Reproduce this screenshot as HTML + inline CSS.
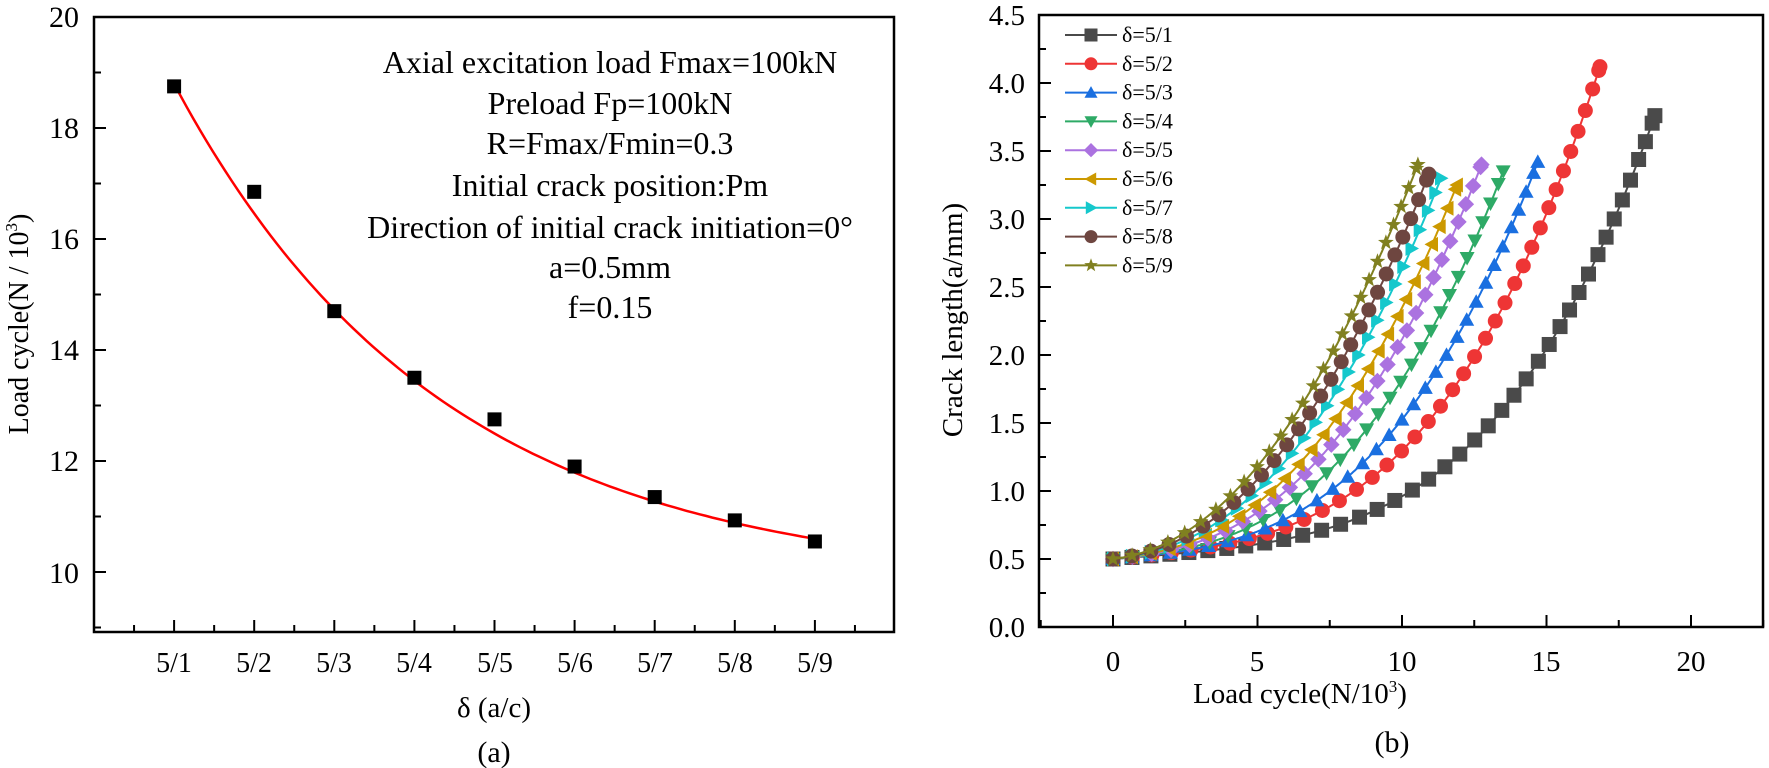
<!DOCTYPE html>
<html><head><meta charset="utf-8"><style>
html,body{margin:0;padding:0;background:#fff;}
svg{display:block;font-family:"Liberation Serif",serif;}
</style></head><body>
<svg id="s" width="1769" height="768" viewBox="0 0 1769 768" xmlns="http://www.w3.org/2000/svg">
<rect width="1769" height="768" fill="#fff"/>
<g id="L"></g>
<rect x="94" y="17" width="800" height="615" fill="none" stroke="#000" stroke-width="2.5"/>
<g font-size="30" text-anchor="end" fill="#000">
<text x="79" y="27">20</text><text x="79" y="138">18</text><text x="79" y="249">16</text>
<text x="79" y="360">14</text><text x="79" y="471">12</text><text x="79" y="583">10</text>
</g>
<g font-size="28" text-anchor="middle">
<text x="174" y="672">5/1</text><text x="254" y="672">5/2</text><text x="334" y="672">5/3</text>
<text x="414" y="672">5/4</text><text x="495" y="672">5/5</text><text x="575" y="672">5/6</text>
<text x="655" y="672">5/7</text><text x="735" y="672">5/8</text><text x="815" y="672">5/9</text>
<text x="494" y="717" font-size="29">δ (a/c)</text>
<text x="494" y="762" font-size="30">(a)</text>
</g>
<text transform="translate(28,324) rotate(-90)" font-size="28" text-anchor="middle">Load cycle(N / 10<tspan font-size="17" dy="-11">3</tspan><tspan dy="11">)</tspan></text>
<g font-size="32" text-anchor="middle">
<text x="610" y="73">Axial excitation load  Fmax=100kN</text>
<text x="610" y="114">Preload Fp=100kN</text>
<text x="610" y="154">R=Fmax/Fmin=0.3</text>
<text x="610" y="196">Initial crack position:Pm</text>
<text x="610" y="238">Direction of initial crack initiation=0°</text>
<text x="610" y="278">a=0.5mm</text>
<text x="610" y="318">f=0.15</text>
</g>
<g id="R"></g>
<rect x="1039" y="15" width="724" height="612" fill="none" stroke="#000" stroke-width="2.5"/>
<g font-size="29" text-anchor="end" id="RY"></g>
<g font-size="29" text-anchor="middle">
<text x="1113" y="671">0</text><text x="1257" y="671">5</text><text x="1402" y="671">10</text>
<text x="1546" y="671">15</text><text x="1691" y="671">20</text>
<text x="1300" y="703" font-size="29">Load cycle(N/10<tspan font-size="17" dy="-11">3</tspan><tspan dy="11">)</tspan></text>
<text x="1392" y="752" font-size="30">(b)</text>
</g>
<text transform="translate(962,320) rotate(-90)" font-size="29" text-anchor="middle">Crack length(a/mm)</text>
<g id="LEG" font-size="22"></g>
</svg>
<script>
const NS="http://www.w3.org/2000/svg";
function el(p,t,a){const e=document.createElementNS(NS,t);for(const k in a)e.setAttribute(k,a[k]);p.appendChild(e);return e;}
const L=document.getElementById('L');
const ly=v=>17+(20-v)*55.5, lx=v=>94+v*80.1;
for(let v=9;v<=20;v++){const big=v%2==0;el(L,'line',{x1:94,x2:94+(big?12:7),y1:ly(v),y2:ly(v),stroke:'#000','stroke-width':2});}
for(let i=1;i<20;i++){const big=i%2==0;const x=94+i*40.05;el(L,'line',{x1:x,x2:x,y1:632,y2:632-(big?12:7),stroke:'#000','stroke-width':2});}
let d='';for(let i=0;i<=100;i++){const x=1+8*i/100;const y=9.78+12.17*Math.exp(-0.3*x);d+=(i?'L':'M')+lx(x).toFixed(1)+','+ly(y).toFixed(1);}
el(L,'path',{d:d,fill:'none',stroke:'#f00','stroke-width':2.5});
const pts=[18.75,16.85,14.7,13.5,12.75,11.9,11.35,10.93,10.55];
pts.forEach((v,i)=>el(L,'rect',{x:lx(i+1)-7,y:ly(v)-7,width:14,height:14,fill:'#000'}));
const R=document.getElementById('R');
const rx=v=>1113+v*28.9, ry=v=>627-v*136;
const RY=document.getElementById('RY');
for(let i=0;i<=9;i++){const v=i*0.5;el(RY,'text',{x:1025,y:ry(v)+10}).textContent=v.toFixed(1);}
for(let i=0;i<=18;i++){const v=i*0.25;const big=i%2==0;el(R,'line',{x1:1039,x2:1039+(big?12:7),y1:ry(v),y2:ry(v),stroke:'#000','stroke-width':2});}
for(let i=-1;i<=9;i++){const v=i*2.5;const big=i%2==0;el(R,'line',{x1:rx(v),x2:rx(v),y1:627,y2:627-(big?12:7),stroke:'#000','stroke-width':2});}
const S=[
 ['5/1','#4a4a4a',18.75,3.76,3.7,'sq'],
 ['5/2','#ee3535',16.85,4.12,3.3,'ci'],
 ['5/3','#1a6fe0',14.7,3.42,3.0,'tu'],
 ['5/4','#2eaa66',13.5,3.35,2.8,'td'],
 ['5/5','#ab72e0',12.75,3.40,2.6,'di'],
 ['5/6','#cc9900',11.9,3.25,2.45,'tl'],
 ['5/7','#15c8cc',11.35,3.30,2.3,'tr'],
 ['5/8','#6e4640',10.93,3.33,2.2,'ci'],
 ['5/9','#808020',10.55,3.40,2.1,'st']];
function marker(g,type,x,y,c,s){s=s||7.5;
 if(type=='sq')el(g,'rect',{x:x-s,y:y-s,width:2*s,height:2*s,fill:c});
 else if(type=='ci')el(g,'circle',{cx:x,cy:y,r:s,fill:c});
 else{let p;
  if(type=='tu')p=[[0,-s],[s,s*.8],[-s,s*.8]];
  if(type=='td')p=[[0,s],[s,-s*.8],[-s,-s*.8]];
  if(type=='tl')p=[[-s,0],[s*.8,-s],[s*.8,s]];
  if(type=='tr')p=[[s,0],[-s*.8,-s],[-s*.8,s]];
  if(type=='di')p=[[0,-s*1.1],[s*1.1,0],[0,s*1.1],[-s*1.1,0]];
  if(type=='st'){p=[];for(let k=0;k<10;k++){const r=k%2?s*0.45:s*1.1;const a=-Math.PI/2+k*Math.PI/5;p.push([r*Math.cos(a),r*Math.sin(a)]);}}
  el(g,'polygon',{points:p.map(q=>(x+q[0]).toFixed(1)+','+(y+q[1]).toFixed(1)).join(' '),fill:c});}
}
S.forEach(s=>{
 const [n,c,T,A,p,m]=s;const g=el(R,'g',{});
 const P=[];for(let i=0;i<=400;i++){const u=i/400;const v=0.5+(A-0.5)*(0.1*u+0.9*Math.pow(u,p));P.push([rx(u*T),ry(v)]);}
 el(g,'path',{d:P.map((q,i)=>(i?'L':'M')+q[0].toFixed(1)+','+q[1].toFixed(1)).join(''),fill:'none',stroke:c,'stroke-width':2});
 let acc=0;marker(g,m,P[0][0],P[0][1],c);
 for(let i=1;i<P.length;i++){acc+=Math.hypot(P[i][0]-P[i-1][0],P[i][1]-P[i-1][1]);if(acc>=19){acc=0;marker(g,m,P[i][0],P[i][1],c);}}
 marker(g,m,P[400][0],P[400][1],c);
});
const LEG=document.getElementById('LEG');
S.forEach((s,i)=>{const y=35+i*28.8;el(LEG,'line',{x1:1065,x2:1117,y1:y,y2:y,stroke:s[1],'stroke-width':2});marker(LEG,s[5],1091,y,s[1],6.5);
 el(LEG,'text',{x:1122,y:y+7}).textContent='δ='+s[0];});
</script>
</body></html>
